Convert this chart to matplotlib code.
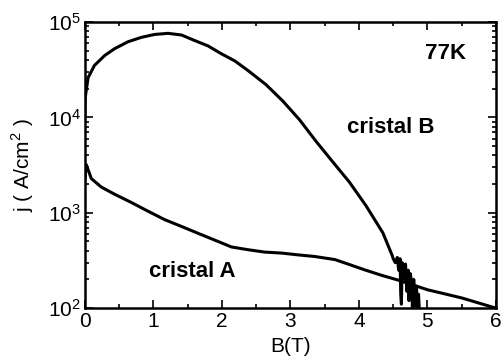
import matplotlib
matplotlib.use("Agg")
import matplotlib.pyplot as plt
from matplotlib.ticker import MultipleLocator, LogLocator, NullFormatter

plt.rcParams['font.family'] = ['Liberation Sans', 'DejaVu Sans']
plt.rcParams['mathtext.fontset'] = 'custom'
plt.rcParams['mathtext.rm'] = 'Liberation Sans'

# cristal B, 77K
b_B = [0.0, 0.005, 0.047, 0.14, 0.29, 0.435, 0.63, 0.825, 1.02, 1.215, 1.41, 1.6, 1.8,
       1.99, 2.19, 2.38, 2.645, 2.89, 3.13, 3.375, 3.62, 3.86, 4.105, 4.35, 4.49,
       4.50, 4.53, 4.56, 4.58, 4.60, 4.61, 4.62, 4.63, 4.65, 4.67, 4.68, 4.70,
       4.72, 4.73, 4.75, 4.77, 4.78, 4.80, 4.82, 4.84, 4.85, 4.87, 4.88]
j_B = [1.05e4, 1.6e4, 2.6e4, 3.5e4, 4.45e4, 5.25e4, 6.2e4, 6.9e4, 7.4e4, 7.6e4, 7.3e4, 6.4e4, 5.6e4,
       4.65e4, 3.9e4, 3.1e4, 2.2e4, 1.48e4, 9.5e3, 5.6e3, 3.4e3, 2.1e3, 1.18e3, 615, 350,
       330, 300, 340, 250, 330, 140, 110, 300, 280, 200, 290, 150,
       250, 120, 230, 180, 100, 200, 105, 170, 100, 140, 100]

# cristal A
b_A = [0.0, 0.02, 0.095, 0.24, 0.43, 0.68, 0.92, 1.165, 1.41, 1.65, 1.895, 2.14, 2.38,
       2.625, 2.87, 3.11, 3.355, 3.65, 3.84, 4.085, 4.33, 4.57, 5.0, 5.5, 6.0]
j_A = [2.2e3, 3.2e3, 2.28e3, 1.86e3, 1.57e3, 1.28e3, 1.04e3, 847, 719, 610, 517, 438, 410,
       387, 378, 362, 348, 323, 290, 252, 221, 197, 156, 128, 100]

fig = plt.figure(figsize=(5.02, 3.6), dpi=100)
ax = fig.add_axes([0.169, 0.144, 0.819, 0.795])

ax.plot(b_B, j_B, color='black', lw=2.2)
ax.plot(b_A, j_A, color='black', lw=2.2)

ax.set_yscale('log')
ax.set_xlim(0, 6)
ax.set_ylim(1e2, 1e5)
ax.xaxis.set_major_locator(MultipleLocator(1))
ax.xaxis.set_minor_locator(MultipleLocator(0.5))
ax.yaxis.set_major_locator(LogLocator(base=10))
ax.yaxis.set_minor_locator(LogLocator(base=10, subs=range(2, 10)))
ax.yaxis.set_minor_formatter(NullFormatter())
ax.tick_params(which='both', direction='in', top=True, right=True, labelsize=15, width=1.2)
ax.tick_params(which='major', length=6, pad=3)
ax.tick_params(which='minor', length=3)
for s in ax.spines.values():
    s.set_linewidth(1.8)

ax.set_xlabel('B(T)', fontsize=15, labelpad=4)
ax.set_ylabel('j ( A/cm$^2$ )', fontsize=15, labelpad=8)

ax.text(5.57, 4.7e4, '77K', fontsize=16, fontweight='bold', ha='right', va='center')
ax.text(3.83, 7.9e3, 'cristal B', fontsize=16, fontweight='bold', ha='left', va='center')
ax.text(0.94, 2.4e2, 'cristal A', fontsize=16, fontweight='bold', ha='left', va='center')

fig.savefig('out.png', dpi=100)
